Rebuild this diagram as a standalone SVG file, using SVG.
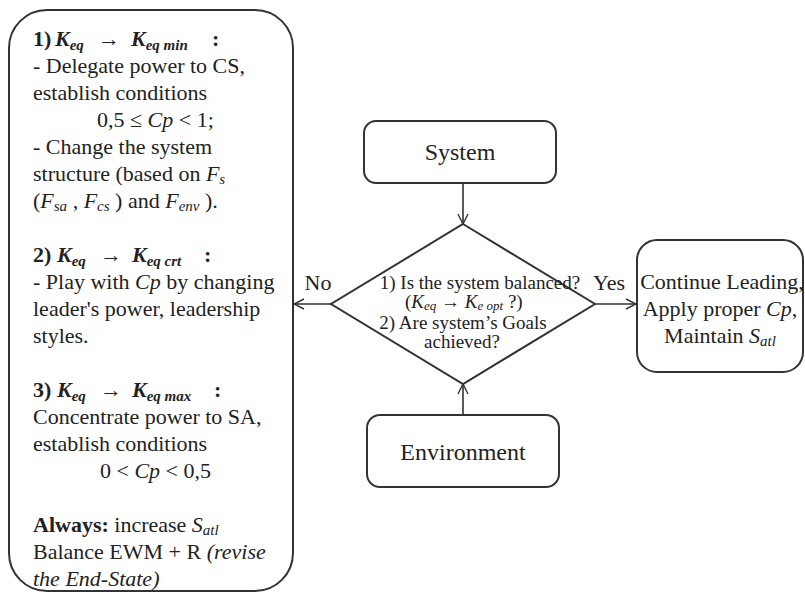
<svg xmlns="http://www.w3.org/2000/svg" width="805" height="596" viewBox="0 0 805 596">
<defs>
<style>
text{font-family:"Liberation Serif","Times New Roman",serif;fill:#222}
.box{fill:#fff;stroke:#333;stroke-width:2}
.conn{stroke:#333;stroke-width:1.6;fill:none}
.lt{font-size:22px}
.b{font-weight:bold}
.i{font-style:italic}
.sub{font-size:15px}
.dt{font-size:19px}
.dsub{font-size:13px}
</style>
<marker id="arr" viewBox="0 0 12 12" refX="11" refY="6" markerWidth="12" markerHeight="12" markerUnits="userSpaceOnUse" orient="auto">
<path d="M1,1 L11,6 L1,11" fill="none" stroke="#333" stroke-width="1.4"/>
</marker>
</defs>
<rect width="805" height="596" fill="#fff"/>

<g id="connectors">
<line class="conn" x1="463" y1="183" x2="463" y2="224" marker-end="url(#arr)"/>
<line class="conn" x1="463" y1="415" x2="463" y2="384" marker-end="url(#arr)"/>
<line class="conn" x1="331" y1="304" x2="294" y2="304" marker-end="url(#arr)"/>
<line class="conn" x1="595" y1="304" x2="636" y2="304" marker-end="url(#arr)"/>
<text class="lt" x="318" y="290" text-anchor="middle">No</text>
<text class="lt" x="609" y="290" text-anchor="middle">Yes</text>
</g>

<g id="left-box">
<rect class="box" x="9" y="10" width="284" height="581" rx="38" ry="38"/>
<text class="lt" y="46"><tspan x="33" class="b">1)</tspan><tspan x="55" class="b i">K</tspan><tspan class="b i sub" dy="4">eq</tspan><tspan x="98" dy="-4">→</tspan><tspan x="131" class="b i">K</tspan><tspan class="b i sub" dy="4">eq min</tspan><tspan x="212" class="b" dy="-4">:</tspan></text>
<text class="lt" x="33" y="73">- Delegate power to CS,</text>
<text class="lt" x="33" y="100">establish  conditions</text>
<text class="lt" x="97" y="127">0,5 ≤ <tspan class="i">Cp</tspan> &lt; 1;</text>
<text class="lt" x="33" y="154">- Change the system</text>
<text class="lt" x="33" y="181">structure (based on <tspan class="i">F</tspan><tspan class="i sub" dy="3">s</tspan></text>
<text class="lt" x="33" y="208">(<tspan class="i">F</tspan><tspan class="i sub" dy="3">sa</tspan><tspan dy="-3"> , </tspan><tspan class="i">F</tspan><tspan class="i sub" dy="3">cs</tspan><tspan dy="-3"> ) and </tspan><tspan class="i">F</tspan><tspan class="i sub" dy="3">env</tspan><tspan dy="-3">  ).</tspan></text>

<text class="lt" y="262"><tspan x="33" class="b">2)</tspan><tspan x="57" class="b i">K</tspan><tspan class="b i sub" dy="4">eq</tspan><tspan x="100" dy="-4">→</tspan><tspan x="132" class="b i">K</tspan><tspan class="b i sub" dy="4">eq crt</tspan><tspan x="204" class="b" dy="-4">:</tspan></text>
<text class="lt" x="33" y="289">- Play with <tspan class="i">Cp</tspan> by changing</text>
<text class="lt" x="33" y="316">leader's power, leadership</text>
<text class="lt" x="33" y="343">styles.</text>

<text class="lt" y="397"><tspan x="33" class="b">3)</tspan><tspan x="57" class="b i">K</tspan><tspan class="b i sub" dy="4">eq</tspan><tspan x="100" dy="-4">→</tspan><tspan x="132" class="b i">K</tspan><tspan class="b i sub" dy="4">eq max</tspan><tspan x="214" class="b" dy="-4">:</tspan></text>
<text class="lt" x="33" y="424">Concentrate power to SA,</text>
<text class="lt" x="33" y="451">establish conditions</text>
<text class="lt" x="100" y="478">0 &lt; <tspan class="i">Cp</tspan> &lt; 0,5</text>

<text class="lt" x="33" y="532"><tspan class="b">Always:</tspan> increase <tspan class="i">S</tspan><tspan class="i sub" dy="3">atl</tspan></text>
<text class="lt" x="33" y="559">Balance EWM + R <tspan class="i">(revise</tspan></text>
<text class="lt i" x="33" y="586">the End-State)</text>
</g>

<g id="system">
<rect class="box" x="364" y="121" width="192" height="62" rx="12" ry="12"/>
<text x="460" y="160" font-size="24" text-anchor="middle">System</text>
</g>

<g id="decision">
<polygon class="box" points="463,224 595,304 463,384 331,304"/>
<text class="dt" x="480" y="289" text-anchor="middle">1) Is the system balanced?</text>
<text class="dt" y="308"><tspan x="405">(</tspan><tspan class="i">K</tspan><tspan class="i dsub" dy="2">eq</tspan><tspan dy="-2"> → </tspan><tspan class="i">K</tspan><tspan class="i dsub" dy="2">e opt</tspan><tspan dy="-2">  ?)</tspan></text>
<text class="dt" x="463" y="329" text-anchor="middle">2) Are system’s Goals</text>
<text class="dt" x="462" y="348" text-anchor="middle">achieved?</text>
</g>

<g id="environment">
<rect class="box" x="367" y="415" width="192" height="72" rx="13" ry="13"/>
<text x="463" y="460" font-size="24" text-anchor="middle">Environment</text>
</g>

<g id="result">
<rect class="box" x="637" y="240" width="166" height="132" rx="20" ry="20"/>
<text class="lt" x="722" y="289" text-anchor="middle">Continue Leading,</text>
<text class="lt" x="720" y="316" text-anchor="middle">Apply proper <tspan class="i">Cp</tspan>,</text>
<text class="lt" x="720" y="343" text-anchor="middle">Maintain <tspan class="i">S</tspan><tspan class="i sub" dy="3">atl</tspan></text>
</g>
</svg>
